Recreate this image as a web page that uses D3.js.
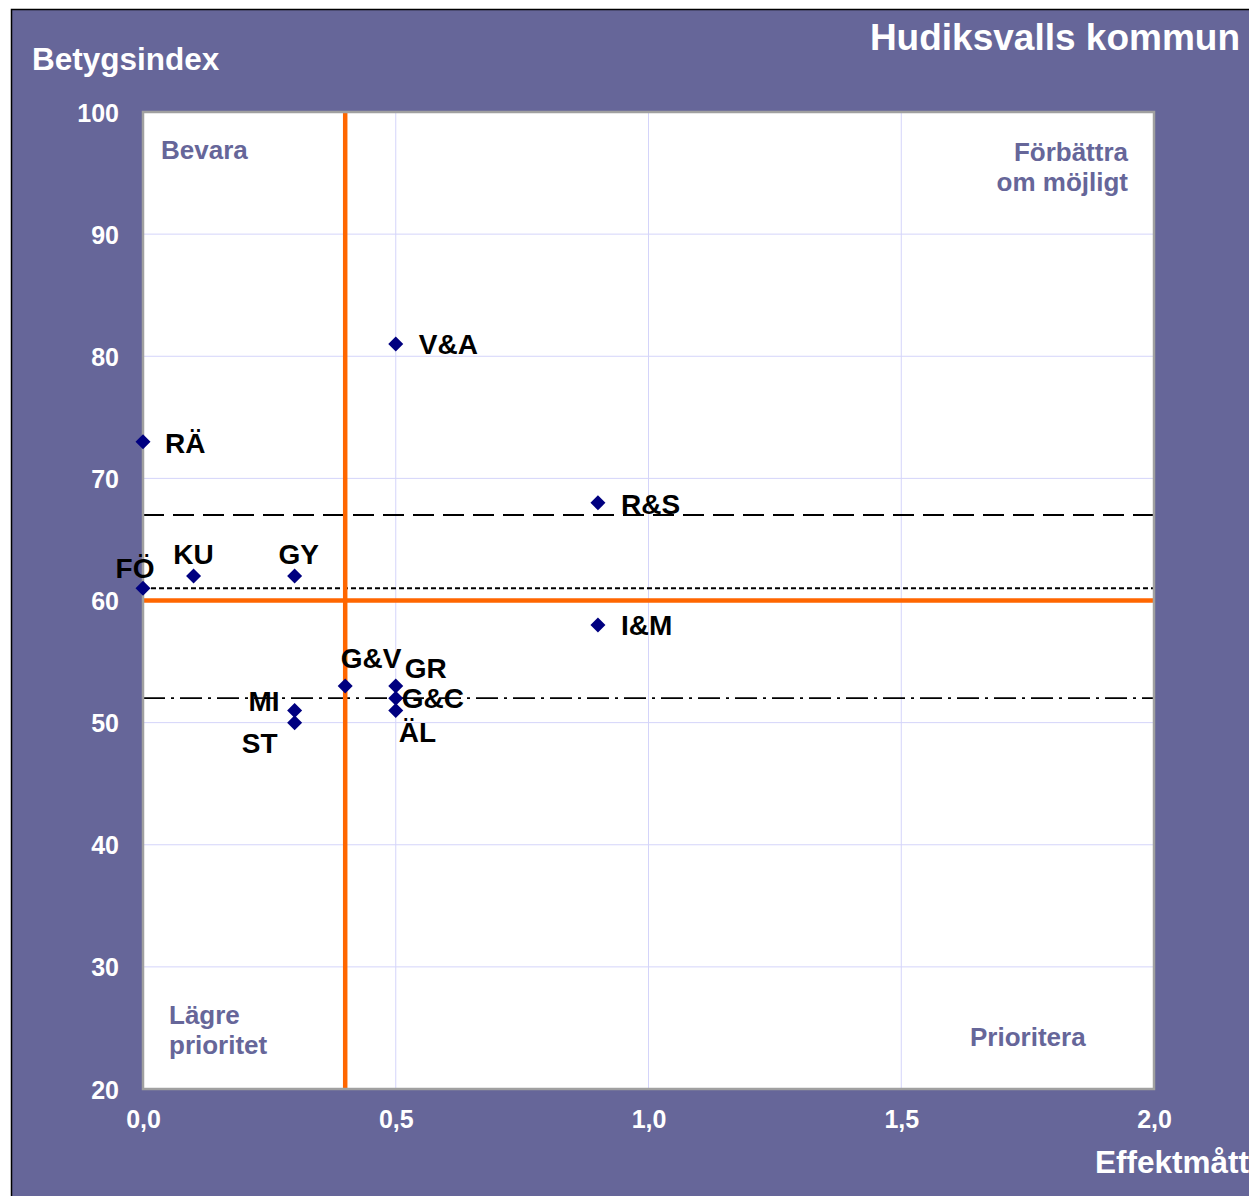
<!DOCTYPE html>
<html>
<head>
<meta charset="utf-8">
<script src="https://cdn.jsdelivr.net/npm/d3@7"></script>
<style>
  html, body { margin: 0; padding: 0; background: #ffffff; }
  svg { display: block; }
  text { font-family: "Liberation Sans", Arial, sans-serif; font-weight: bold; }
</style>
</head>
<body>
<svg id="chart" width="1249" height="1196"></svg>
<script>
// ---- data ----
const names  = ["FÖ", "KU", "GY", "RÄ", "V&A", "R&S", "I&M", "G&V", "GR", "G&C", "ÄL", "MI", "ST"];
const effekt = [0.0, 0.1, 0.3, 0.0, 0.5, 0.9, 0.9, 0.4, 0.5, 0.5, 0.5, 0.3, 0.3];
const betyg  = [61, 62, 62, 73, 81, 68, 58, 53, 53, 52, 51, 51, 50];

const xTicks = [0, 0.5, 1.0, 1.5, 2.0];
const xTickLabels = ["0,0", "0,5", "1,0", "1,5", "2,0"];
const yTicks = [20, 30, 40, 50, 60, 70, 80, 90, 100];

const orangeX = 0.4;   // vertical quadrant divider
const orangeY = 60;    // horizontal quadrant divider
const longDashY = 67;
const shortDashY = 61;
const dashDotY = 52;

const title = "Hudiksvalls kommun";
const yTitle = "Betygsindex";
const xTitle = "Effektmått";
const quadrants = [["Bevara"], ["Förbättra", "om möjligt"], ["Lägre", "prioritet"], ["Prioritera"]];

// ---- label placement (style, not data) ----
const labelPlace = {
  "FÖ":  {dx: -8,  dy: -20, anchor: "middle"},
  "KU":  {dx: 0,   dy: -22, anchor: "middle"},
  "GY":  {dx: 4,   dy: -22, anchor: "middle"},
  "RÄ":  {dx: 22,  dy: 1,   anchor: "start"},
  "V&A": {dx: 23,  dy: 0,   anchor: "start"},
  "R&S": {dx: 23,  dy: 1,   anchor: "start"},
  "I&M": {dx: 23,  dy: 0,   anchor: "start"},
  "G&V": {dx: 26,  dy: -28, anchor: "middle"},
  "GR":  {dx: 9,   dy: -18, anchor: "start"},
  "G&C": {dx: 6,   dy: 0,   anchor: "start"},
  "ÄL":  {dx: 3,   dy: 22,  anchor: "start"},
  "MI":  {dx: -15, dy: -9,  anchor: "end"},
  "ST":  {dx: -17, dy: 20,  anchor: "end"}
};

// ---- layout ----
const svg = d3.select("#chart");
const panelColor = "#666699";
const plot = {left: 143, right: 1154, top: 112, bottom: 1089};

svg.append("rect")
  .attr("x", 11.5).attr("y", 9.5)
  .attr("width", 1300).attr("height", 1300)
  .attr("fill", panelColor)
  .attr("stroke", "#000").attr("stroke-width", 1.5);

const x = d3.scaleLinear().domain([0, 2]).range([plot.left, plot.right]);
const y = d3.scaleLinear().domain([20, 100]).range([plot.bottom, plot.top]);

// plot area
svg.append("rect")
  .attr("x", plot.left).attr("y", plot.top)
  .attr("width", plot.right - plot.left).attr("height", plot.bottom - plot.top)
  .attr("fill", "#ffffff");

// gridlines
const grid = svg.append("g");
grid.selectAll("line.v").data(xTicks.slice(1, -1)).enter().append("line")
  .attr("x1", d => x(d)).attr("x2", d => x(d))
  .attr("y1", plot.top).attr("y2", plot.bottom)
  .attr("stroke", "#d4d4fa").attr("stroke-width", 1);
grid.selectAll("line.h").data(yTicks.slice(1, -1)).enter().append("line")
  .attr("y1", d => y(d)).attr("y2", d => y(d))
  .attr("x1", plot.left).attr("x2", plot.right)
  .attr("stroke", "#d4d4fa").attr("stroke-width", 1);

// quadrant labels
const qColor = "#666699";
const qg = svg.append("g").attr("fill", qColor).style("font-size", "26px");
qg.append("text").attr("x", 161).attr("y", 159).text(quadrants[0][0]);
quadrants[1].forEach((t, i) => qg.append("text").attr("x", 1128).attr("y", 161 + i * 30).attr("text-anchor", "end").text(t));
quadrants[2].forEach((t, i) => qg.append("text").attr("x", 169).attr("y", 1024 + i * 30).text(t));
qg.append("text").attr("x", 970).attr("y", 1046).text(quadrants[3][0]);

// reference lines
const refs = svg.append("g");
refs.append("line")
  .attr("x1", plot.left).attr("x2", plot.right)
  .attr("y1", y(longDashY)).attr("y2", y(longDashY))
  .attr("stroke", "#000").attr("stroke-width", 2).attr("stroke-dasharray", "21,9");
refs.append("line")
  .attr("x1", plot.left).attr("x2", plot.right)
  .attr("y1", y(shortDashY)).attr("y2", y(shortDashY))
  .attr("stroke", "#000").attr("stroke-width", 2).attr("stroke-dasharray", "5,3");
refs.append("line")
  .attr("x1", plot.left).attr("x2", plot.right)
  .attr("y1", y(dashDotY)).attr("y2", y(dashDotY))
  .attr("stroke", "#000").attr("stroke-width", 1.8).attr("stroke-dasharray", "22,6,3,6");
refs.append("line")
  .attr("x1", plot.left).attr("x2", plot.right)
  .attr("y1", y(orangeY)).attr("y2", y(orangeY))
  .attr("stroke", "#ff6600").attr("stroke-width", 4.5);
refs.append("line")
  .attr("x1", x(orangeX)).attr("x2", x(orangeX))
  .attr("y1", plot.top).attr("y2", plot.bottom)
  .attr("stroke", "#ff6600").attr("stroke-width", 4.5);

// plot border
svg.append("rect")
  .attr("x", plot.left).attr("y", plot.top)
  .attr("width", plot.right - plot.left).attr("height", plot.bottom - plot.top)
  .attr("fill", "none").attr("stroke", "#a0a0a0").attr("stroke-width", 2.5);

// axes (labels only)
const xAxis = d3.axisBottom(x).tickValues(xTicks).tickFormat((d, i) => xTickLabels[i]).tickSize(0).tickPadding(21);
const yAxis = d3.axisLeft(y).tickValues(yTicks).tickFormat(d3.format("d")).tickSize(0).tickPadding(24);
const gx = svg.append("g").attr("transform", `translate(0,${plot.bottom})`).call(xAxis);
const gy = svg.append("g").attr("transform", `translate(${plot.left},0)`).call(yAxis);
[gx, gy].forEach(g => {
  g.select(".domain").remove();
  g.selectAll("text").attr("fill", "#ffffff").style("font-size", "25px")
    .style("font-family", "'Liberation Sans', Arial, sans-serif").style("font-weight", "bold");
});
gy.selectAll("text").attr("dy", "0.36em");

// titles
svg.append("text").attr("x", 32).attr("y", 70).attr("fill", "#fff").style("font-size", "31.5px").text(yTitle);
svg.append("text").attr("x", 1240).attr("y", 50).attr("text-anchor", "end").attr("fill", "#fff").style("font-size", "37px").text(title);
svg.append("text").attr("x", 1095).attr("y", 1173).attr("fill", "#fff").style("font-size", "31.5px").text(xTitle);

// points
const pts = names.map((n, i) => ({name: n, x: effekt[i], y: betyg[i]}));
const r = 7.5;
svg.append("g").selectAll("path").data(pts).enter().append("path")
  .attr("d", d => {
    const cx = x(d.x), cy = y(d.y);
    return `M${cx},${cy - r}L${cx + r},${cy}L${cx},${cy + r}L${cx - r},${cy}Z`;
  })
  .attr("fill", "#000080");

// point labels
svg.append("g").selectAll("text").data(pts).enter().append("text")
  .attr("x", d => x(d.x) + labelPlace[d.name].dx)
  .attr("y", d => y(d.y) + labelPlace[d.name].dy)
  .attr("dy", "0.36em")
  .attr("text-anchor", d => labelPlace[d.name].anchor)
  .attr("fill", "#000")
  .style("font-size", "28px")
  .text(d => d.name);
</script>
</body>
</html>
